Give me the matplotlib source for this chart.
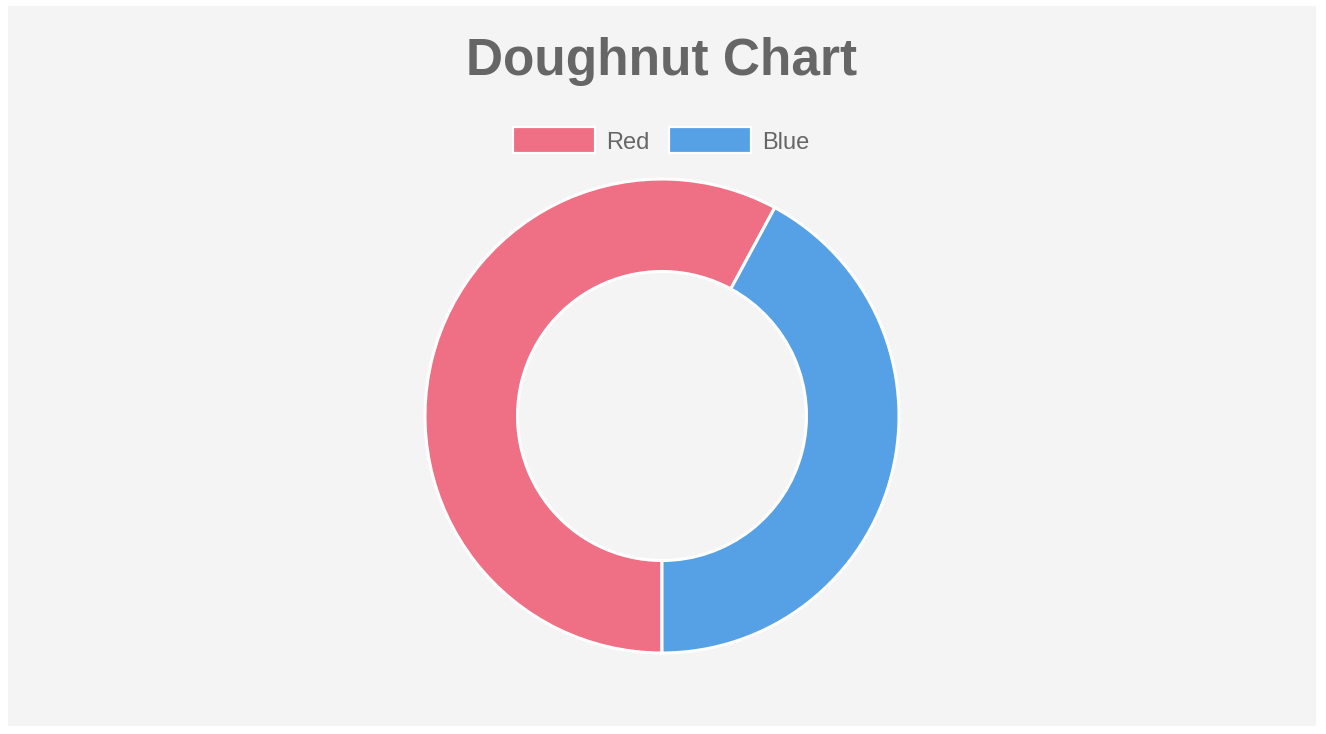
import matplotlib
matplotlib.use("Agg")
import matplotlib.pyplot as plt
from matplotlib.patches import Rectangle

# --- data ---
labels = ["Red", "Blue"]
values = [55, 40]
colors = ["#ef6f84", "#56a1e5"]
title = "Doughnut Chart"

W, H = 1326, 734
plt.rcParams["font.family"] = ["Liberation Sans", "DejaVu Sans"]

fig = plt.figure(figsize=(W / 100, H / 100), dpi=100, facecolor="white")

# light grey panel (behind everything)
fig.patches.append(Rectangle((8 / W, (H - 726) / H), 1308 / W, 720 / H,
                             transform=fig.transFigure, facecolor="#f4f4f4",
                             edgecolor="none", zorder=-10))

# axes where 1 data unit == 1 pixel, centred on the doughnut
cx, cy, half = 662, 416, 250
ax = fig.add_axes([(cx - half) / W, (H - cy - half) / H, 2 * half / W, 2 * half / H])
ax.set_zorder(5)

r_out, r_in = 237, 144.5
ax.pie(values, colors=colors, radius=r_out, startangle=-90, counterclock=False,
       wedgeprops=dict(width=r_out - r_in, edgecolor="white", linewidth=2.2))
ax.set_xlim(-half, half)
ax.set_ylim(-half, half)
ax.set_aspect("equal")
ax.axis("off")

# title
fig.text(cx / W, (H - 75) / H, title, ha="center", va="baseline",
         fontsize=37, fontweight="bold", color="#666666")

# legend
box_x = [513, 669]
for i, lab in enumerate(labels):
    x0 = box_x[i]
    fig.patches.append(Rectangle((x0 / W, (H - 153) / H), 82 / W, 26 / H,
                                 transform=fig.transFigure, facecolor=colors[i],
                                 edgecolor="white", linewidth=1.6, zorder=2))
    fig.text((x0 + 93) / W, (H - 149) / H, lab, ha="left", va="baseline",
             fontsize=17, color="#666666")

fig.savefig("out.png", dpi=100, facecolor="white")
